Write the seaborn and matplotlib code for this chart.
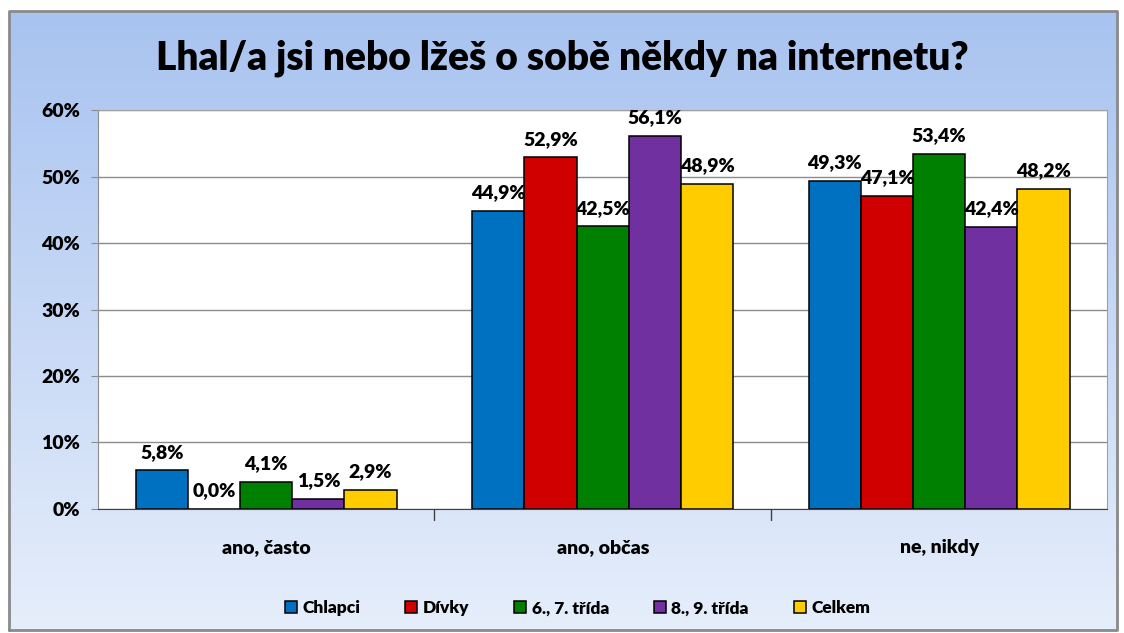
import numpy as np
import pandas as pd
import matplotlib.pyplot as plt
import seaborn as sns
from matplotlib.colors import LinearSegmentedColormap

categories = ['ano, často', 'ano, občas', 'ne, nikdy']
groups = ['Chlapci', 'Dívky', '6., 7. třída', '8., 9. třída', 'Celkem']
chlapci = [5.8, 44.9, 49.3]
divky = [0.0, 52.9, 47.1]
trida67 = [4.1, 42.5, 53.4]
trida89 = [1.5, 56.1, 42.4]
celkem = [2.9, 48.9, 48.2]
yticks = [0, 10, 20, 30, 40, 50, 60]

colors = ['#0070c0', '#d00000', '#008000', '#7030a0', '#ffcc00']

series = [chlapci, divky, trida67, trida89, celkem]
df = pd.DataFrame({
    'kategorie': np.repeat([categories], len(groups), axis=0).ravel(),
    'skupina': np.repeat(groups, len(categories)),
    'hodnota': np.concatenate(series),
})

sns.set_style('white')
plt.rcParams['font.family'] = ['Lato', 'DejaVu Sans']
plt.rcParams['font.weight'] = 'heavy'
plt.rcParams['text.color'] = 'black'

fig = plt.figure(figsize=(11.24, 6.33), dpi=100)

# background gradient + frame
bg = fig.add_axes([0, 0, 1, 1], zorder=-2)
grad = np.linspace(0, 1, 256).reshape(-1, 1)
cmap = LinearSegmentedColormap.from_list('bg', ['#a8c3f0', '#e6eefb'])
bg.imshow(grad, aspect='auto', cmap=cmap, extent=[0.008, 0.994, 0.005, 0.982])
bg.plot([0.008, 0.994, 0.994, 0.008, 0.008], [0.005, 0.005, 0.982, 0.982, 0.005],
        color='#8a8a8a', lw=2)
bg.set_xlim(0, 1)
bg.set_ylim(0, 1)
bg.axis('off')

ax = fig.add_axes([0.0872, 0.196, 0.898, 0.630])
sns.barplot(data=df, x='kategorie', y='hodnota', hue='skupina', palette=colors,
            saturation=1, width=0.775, edgecolor='black', linewidth=1.1, ax=ax)
ax.set_facecolor('white')
ax.set_ylim(0, 60)
ax.set_yticks(yticks)
ax.set_yticklabels([f'{t}%' for t in yticks], fontsize=14, fontweight='heavy')
ax.yaxis.grid(True, color='#8c8c8c', lw=1)
ax.set_axisbelow(True)
ax.tick_params(axis='y', length=5, color='#8c8c8c', labelcolor='black', left=True, pad=8)
ax.tick_params(axis='x', length=0, pad=22, labelsize=14, labelcolor='black')
for lbl in ax.get_xticklabels():
    lbl.set_fontweight('heavy')
ax.set_xlabel('')
ax.set_ylabel('')
for s in ['top', 'right']:
    ax.spines[s].set_color('#a0a0a0')
ax.spines['left'].set_color('#8c8c8c')
ax.spines['bottom'].set_color('#404040')
# category separators
for xs in [0.5, 1.5]:
    ax.plot([xs, xs], [0, -1.6], color='#404040', lw=1, clip_on=False)
ax.set_xlim(-0.5, 2.5)

for cont, vals in zip(ax.containers, series):
    ax.bar_label(cont, labels=[f'{v:.1f}%'.replace('.', ',') for v in vals],
                 padding=7, fontsize=14, fontweight='heavy')

ax.legend(loc='upper center', bbox_to_anchor=(0.475, -0.19), ncol=5, frameon=False,
          prop={'weight': 'heavy', 'size': 12.5}, handlelength=0.7, handleheight=0.7,
          handletextpad=0.3, columnspacing=2.6)

fig.text(0.5, 0.908, 'Lhal/a jsi nebo lžeš o sobě někdy na internetu?',
         ha='center', va='center', fontsize=28, fontweight='heavy')

fig.savefig('out.png', dpi=100)
